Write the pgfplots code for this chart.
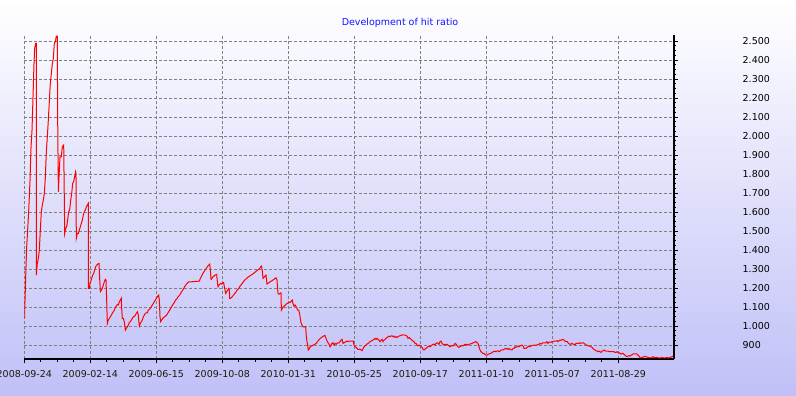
\documentclass[border=0pt]{standalone}
\usepackage{fontspec}
\setmainfont{DejaVu Sans}
\usepackage{pgfplots}
\pgfplotsset{compat=1.18}
\definecolor{bgbot}{RGB}{192,192,248}
\definecolor{gridgray}{RGB}{128,128,128}
\definecolor{titleblue}{RGB}{20,20,255}
\begin{document}
\begin{tikzpicture}[x=1pt,y=1pt]
\clip (0,0) rectangle (796,396);
\shade[top color=white, bottom color=bgbot] (0,0) rectangle (796,396);
\node[text=titleblue, font=\fontsize{9.5}{11}\selectfont] at (400,373) {Development of hit ratio};
\begin{axis}[
  at={(24.3pt,36.5pt)}, anchor=south west,
  width=649.2pt, height=324.5pt, scale only axis,
  xmin=0, xmax=983.6, ymin=824, ymax=2532,
  axis x line*=bottom, axis y line*=right,
  axis line style={-, black, line width=2pt},
  xtick={0,100,...,900},
  xticklabels={2008-09-24,2009-02-14,2009-06-15,2009-10-08,2010-01-31,2010-05-25,2010-09-17,2011-01-10,2011-05-07,2011-08-29},
  ytick={900,1000,...,2500},
  minor x tick num=3, minor y tick num=3,
  tick align=outside,
  major tick length=4pt, minor tick length=2.5pt,
  tick style={black, line width=0.8pt},
  grid=major,
  major grid style={gridgray, line width=0.8pt, dash pattern=on 3pt off 2pt},
  /pgf/number format/.cd, fixed, precision=0, 1000 sep={.}, assume math mode=true,
  /pgfplots/.cd,
  yticklabel pos=right,
  yticklabel style={anchor=west, inner sep=0pt, xshift=65pt, font=\fontsize{9.5}{11}\selectfont, text=black},
  xticklabel style={anchor=north, inner sep=0pt, yshift=-7pt, font=\fontsize{9.5}{11}\selectfont, text={rgb,255:red,30;green,25;blue,10}},
  clip=true,
]
\addplot[red, line width=1pt, mark=none] coordinates {
(0.3,1042) (2.1,1260) (3.6,1418) (5.1,1505) (6.6,1602) (8.6,1760) (10.2,1944) (11.7,2032)
(13.2,2207) (14.7,2382) (15.7,2461) (17.2,2488) (18.2,2488) (18.3,1268) (19.7,1330) (21.3,1356)
(22.8,1400) (24.3,1505) (25.8,1602) (27.3,1637) (28.8,1663) (30.4,1698) (31.9,1786) (33.4,1918)
(34.9,1996) (36.4,2084) (37.9,2181) (39.4,2277) (41.0,2330) (42.5,2382) (44.0,2409) (45.5,2488)
(47.0,2496) (48.5,2526) (50.0,2526) (50.5,2119) (51.6,1707) (52.6,1786) (54.1,1891) (56.1,1891)
(57.6,1944) (59.7,1953) (61.2,1488) (62.7,1514) (64.2,1523) (65.7,1558) (67.2,1602) (68.7,1611)
(70.3,1663) (71.8,1698) (73.3,1751) (74.8,1760) (76.3,1786) (77.8,1812) (78.3,1803) (78.8,1461)
(80.4,1488) (81.9,1488) (83.4,1505) (84.9,1523) (86.4,1540) (87.9,1558) (89.4,1584) (91.0,1602)
(92.5,1611) (94.0,1628) (95.5,1637) (97.0,1646) (97.1,1198) (98.5,1198) (99.5,1225) (100.6,1233)
(102.1,1251) (103.6,1268) (105.1,1277) (106.6,1295) (108.1,1312) (109.7,1321) (111.2,1326) (113.2,1330)
(114.2,1251) (115.2,1181) (116.7,1189) (118.2,1198) (119.7,1216) (121.3,1233) (122.8,1246) (123.8,1242)
(124.8,1137) (125.8,1014) (127.3,1032) (128.8,1040) (130.4,1049) (131.9,1058) (133.4,1067) (134.9,1075)
(136.4,1084) (137.9,1098) (139.4,1105) (141.0,1114) (142.5,1111) (144.0,1128) (145.5,1137) (147.0,1146)
(147.5,1093) (148.5,1040) (150.0,1040) (151.6,1023) (153.1,979) (154.6,988) (156.1,996) (157.6,1005)
(159.1,1018) (160.6,1023) (162.2,1032) (163.7,1040) (165.2,1049) (166.7,1049) (168.2,1058) (169.7,1067)
(171.3,1075) (172.8,1058) (173.3,1032) (174.3,1000) (175.8,1014) (177.3,1023) (178.8,1032) (180.4,1049)
(181.9,1058) (183.4,1067) (184.9,1070) (186.4,1070) (187.9,1084) (189.4,1088) (191.0,1093) (192.5,1102)
(194.0,1111) (195.5,1119) (197.0,1128) (198.5,1137) (200.0,1146) (201.6,1154) (203.6,1163) (204.6,1137)
(205.6,1049) (206.6,1023) (208.1,1032) (209.7,1040) (211.2,1046) (212.7,1049) (214.2,1053) (215.7,1058)
(217.2,1067) (218.8,1075) (220.3,1084) (221.8,1093) (223.3,1102) (224.8,1111) (226.3,1119) (227.8,1128)
(229.3,1137) (230.9,1142) (232.4,1151) (233.9,1158) (235.4,1163) (236.9,1172) (238.4,1181) (240.0,1189)
(241.5,1198) (243.0,1207) (244.5,1216) (246.0,1221) (247.5,1228) (249.0,1232) (253.6,1233) (258.6,1235)
(263.7,1236) (265.2,1236) (266.7,1251) (268.2,1260) (269.8,1272) (271.3,1281) (272.8,1289) (274.3,1298)
(275.8,1304) (277.3,1312) (278.8,1319) (280.9,1326) (281.9,1295) (282.9,1246) (284.4,1251) (285.9,1260)
(287.4,1263) (288.9,1268) (291.5,1272) (292.5,1233) (293.5,1207) (295.0,1216) (296.5,1221) (298.0,1225)
(299.5,1221) (301.1,1228) (302.1,1228) (303.1,1207) (304.1,1189) (305.1,1172) (306.6,1181) (308.1,1189)
(309.7,1198) (310.7,1189) (311.2,1146) (312.7,1146) (314.2,1151) (315.7,1158) (317.2,1163) (318.8,1172)
(320.3,1177) (321.8,1186) (323.3,1193) (324.8,1198) (326.3,1207) (327.8,1214) (329.4,1221) (330.9,1228)
(332.4,1235) (333.9,1242) (335.4,1246) (336.9,1251) (338.4,1256) (340.0,1260) (341.5,1263) (343.0,1267)
(344.5,1270) (346.0,1274) (347.5,1277) (349.0,1282) (350.6,1286) (352.1,1291) (353.6,1295) (355.1,1298)
(356.6,1304) (358.1,1312) (359.6,1316) (360.7,1286) (361.7,1251) (363.2,1256) (364.7,1263) (366.2,1268)
(367.7,1221) (369.2,1225) (370.8,1228) (372.3,1233) (375.3,1239) (378.3,1246) (379.9,1251) (381.4,1254)
(382.9,1242) (383.4,1216) (384.4,1172) (385.9,1168) (387.4,1172) (388.9,1175) (389.5,1084) (391.0,1093)
(392.5,1102) (394.0,1105) (395.5,1111) (397.0,1116) (398.5,1119) (400.0,1123) (401.6,1126) (403.1,1125)
(404.6,1132) (406.1,1137) (407.1,1119) (408.6,1105) (410.2,1111) (411.7,1102) (413.2,1093) (414.2,1084)
(415.7,1084) (417.2,1063) (418.2,1040) (419.2,1018) (420.8,1005) (422.3,996) (426.3,996) (427.3,944)
(428.3,918) (429.3,900) (430.3,874) (431.9,882) (433.4,891) (434.9,895) (436.4,896) (437.9,900)
(439.4,904) (440.9,905) (442.5,909) (444.0,918) (445.5,923) (447.0,930) (448.5,935) (450.0,939)
(451.6,944) (453.1,947) (454.6,949) (455.6,951) (457.1,935) (458.6,923) (460.2,912) (461.7,904)
(463.2,891) (464.7,900) (466.2,909) (467.7,912) (469.2,900) (470.8,909) (472.3,904) (473.8,909)
(475.3,912) (476.8,912) (478.3,918) (479.8,926) (481.4,930) (482.9,909) (484.4,912) (487.4,918)
(488.9,921) (490.5,918) (492.0,921) (498.6,921) (499.5,900) (501.1,891) (502.6,888) (504.1,882)
(505.6,877) (507.1,877) (508.6,879) (510.2,874) (511.7,870) (513.2,881) (514.7,891) (516.2,895)
(517.7,900) (519.2,905) (520.8,909) (522.3,912) (523.8,918) (525.3,921) (526.8,923) (528.3,926)
(529.8,930) (531.4,935) (532.9,930) (534.4,935) (535.9,930) (537.4,926) (538.9,918) (540.5,926)
(542.0,930) (543.5,918) (545.0,926) (546.5,930) (548.0,935) (549.5,939) (551.1,944) (552.6,947)
(554.1,944) (555.6,947) (557.1,949) (558.6,944) (560.1,947) (561.7,940) (563.2,944) (564.7,940)
(566.2,944) (567.7,947) (569.2,949) (570.7,951) (572.3,953) (575.3,953) (578.3,951) (579.8,947)
(581.4,935) (582.9,940) (584.4,935) (585.9,930) (587.4,926) (588.9,921) (590.5,918) (592.0,909)
(593.5,909) (595.0,900) (596.5,895) (598.0,900) (599.5,898) (601.1,891) (602.6,888) (604.1,877)
(605.6,874) (607.1,879) (608.6,882) (610.2,888) (611.7,891) (613.2,895) (614.7,891) (616.2,896)
(617.7,900) (619.2,904) (620.8,905) (622.3,900) (623.8,909) (625.3,912) (626.8,909) (628.3,904)
(629.8,918) (631.4,921) (632.9,909) (634.4,904) (635.9,900) (637.4,904) (638.9,900) (640.5,904)
(642.0,900) (643.5,895) (645.0,891) (646.5,895) (648.0,898) (649.5,895) (651.1,900) (652.6,909)
(654.1,905) (655.6,898) (657.1,891) (658.6,888) (660.1,891) (661.7,895) (663.2,898) (664.7,895)
(666.2,900) (667.7,904) (669.2,900) (670.8,904) (672.3,900) (673.8,904) (675.3,905) (678.3,909)
(681.4,914) (684.4,918) (685.9,912) (687.4,909) (688.9,891) (690.5,874) (692.0,865) (693.5,860)
(695.0,856) (696.5,856) (698.0,851) (699.5,847) (701.1,847) (702.6,851) (704.1,853) (705.6,856)
(707.1,856) (708.6,860) (710.2,865) (711.7,865) (713.2,868) (714.7,865) (716.2,868) (717.7,870)
(719.2,865) (720.8,868) (722.3,874) (725.3,874) (726.8,877) (728.3,882) (729.8,879) (731.4,882)
(732.9,877) (734.4,882) (735.9,877) (737.4,874) (738.9,874) (740.5,882) (742.0,882) (743.5,891)
(745.0,888) (746.5,891) (748.0,895) (749.5,891) (751.1,895) (752.6,898) (754.1,900) (755.6,895)
(757.1,882) (758.6,882) (760.1,882) (761.7,888) (763.2,891) (764.7,895) (766.2,891) (767.7,896)
(769.2,896) (770.8,900) (772.3,900) (773.8,898) (775.3,900) (776.8,900) (778.3,904) (779.8,904)
(781.4,909) (782.9,905) (784.4,909) (785.9,912) (788.9,912) (790.5,912) (792.0,918) (793.5,909)
(795.0,914) (796.5,916) (798.0,914) (799.5,918) (801.1,918) (802.6,921) (805.6,921) (807.1,923)
(808.6,918) (810.2,923) (811.7,926) (813.2,925) (814.7,928) (816.2,930) (817.7,926) (819.2,921)
(820.8,918) (822.3,919) (823.8,912) (825.3,907) (826.8,904) (828.3,905) (829.8,909) (831.4,905)
(832.9,904) (834.4,900) (835.9,909) (838.9,909) (840.5,912) (842.0,909) (845.0,911) (846.5,912)
(848.0,909) (849.5,905) (851.1,900) (852.6,900) (854.1,896) (855.6,895) (857.1,895) (858.6,891)
(860.1,888) (861.7,882) (863.2,877) (864.7,874) (866.2,870) (867.7,870) (869.2,865) (870.8,868)
(872.3,865) (873.8,861) (875.3,868) (876.8,870) (878.3,874) (879.8,870) (881.4,868) (884.4,868)
(885.9,865) (887.4,866) (888.9,865) (893.5,865) (895.0,861) (896.5,861) (898.0,865) (899.5,861)
(901.1,860) (902.6,856) (904.1,853) (905.6,856) (907.1,856) (908.6,851) (910.2,847) (911.7,842)
(913.2,839) (914.7,842) (916.2,844) (917.7,842) (919.2,846) (920.8,849) (922.3,853) (928.3,853)
(929.8,847) (931.4,842) (932.9,833) (934.4,833) (935.9,835) (937.4,837) (938.9,839) (940.5,840)
(942.0,839) (943.5,837) (945.0,835) (948.0,833) (949.5,833) (951.1,835) (952.6,839) (954.1,835)
(955.6,833) (958.6,835) (960.1,833) (961.7,832) (963.2,833) (964.7,832) (966.2,835) (967.7,833)
(970.8,832) (972.3,833) (973.8,835) (975.3,832) (976.8,833) (978.3,835) (979.8,837) (981.4,839)
(982.9,842)
};
\end{axis}
\end{tikzpicture}
\end{document}
